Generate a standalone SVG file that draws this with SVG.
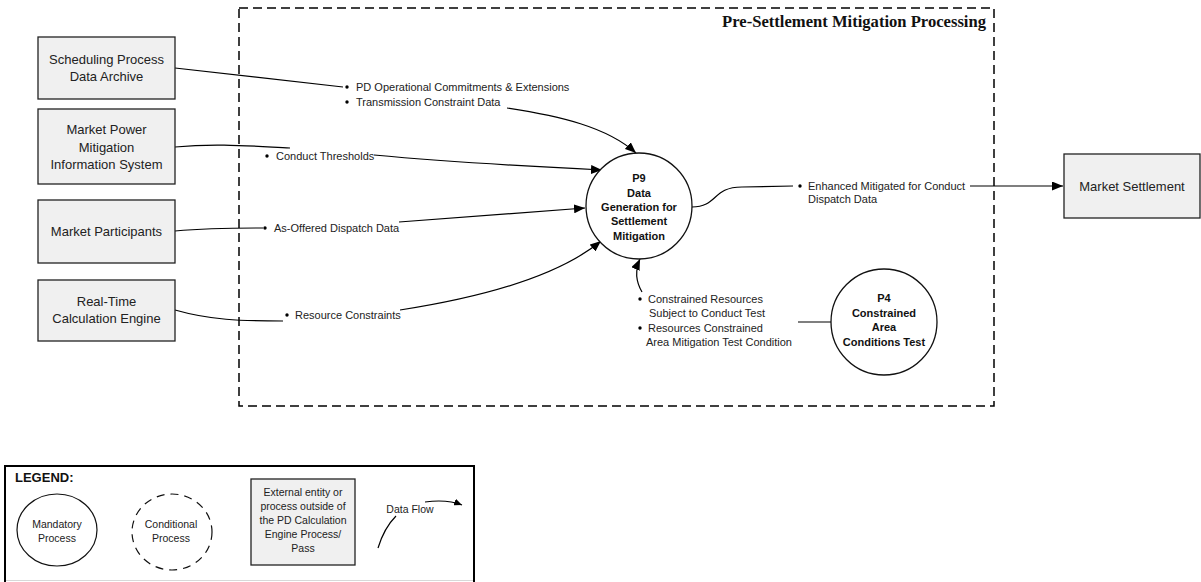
<svg xmlns="http://www.w3.org/2000/svg" width="1201" height="582" viewBox="0 0 1201 582">
<defs>
<marker id="arr" markerUnits="userSpaceOnUse" markerWidth="11" markerHeight="9" refX="11" refY="4.5" orient="auto">
<path d="M0,0 L11,4.5 L0,9 z" fill="#000"/>
</marker>
<marker id="arrs" markerUnits="userSpaceOnUse" markerWidth="8" markerHeight="7" refX="8" refY="3.5" orient="auto">
<path d="M0,0 L8,3.5 L0,7 z" fill="#000"/>
</marker>
<style>
.box{fill:#f0f0f0;stroke:#222;stroke-width:1.3}
.proc{fill:#fff;stroke:#111;stroke-width:1.3}
.bt{font-family:"Liberation Sans",Arial,sans-serif;font-size:13px;fill:#222;text-anchor:middle}
.pt{font-family:"Liberation Sans",Arial,sans-serif;font-size:11px;font-weight:bold;fill:#111;text-anchor:middle}
.lb{font-family:"Liberation Sans",Arial,sans-serif;font-size:11px;fill:#222}
.lg{font-family:"Liberation Sans",Arial,sans-serif;font-size:10.5px;fill:#222;text-anchor:middle}
.fl{fill:none;stroke:#000;stroke-width:1.2}
.dot{fill:#000}
</style>
</defs>
<rect width="1201" height="582" fill="#fff"/>

<g id="container">
<rect x="239" y="8" width="755" height="398" fill="none" stroke="#000" stroke-width="1.5" stroke-dasharray="9 5"/>
<text x="986" y="27" font-family="Liberation Serif,Times New Roman,serif" font-size="16.6" font-weight="bold" text-anchor="end" fill="#111">Pre-Settlement Mitigation Processing</text>
</g>

<g id="connectors">
<path class="fl" d="M175,68 L343,87"/>
<path class="fl" d="M507,108 C560,116 607,127 636,153" marker-end="url(#arr)"/>
<path class="fl" d="M175,147 C215,143 250,146 290,148"/>
<path class="fl" d="M374,155 C450,162 540,167 602,170" marker-end="url(#arr)"/>
<path class="fl" d="M175,231 C210,228 240,228 263,228"/>
<path class="fl" d="M399,222 L585,208" marker-end="url(#arr)"/>
<path class="fl" d="M175,310 C210,320 240,321 283,321"/>
<path class="fl" d="M400,310 C490,296 560,275 601,241" marker-end="url(#arr)"/>
<path class="fl" d="M692,207 C718,207 712,187 742,187 L793,186"/>
<path class="fl" d="M970,186 L1063,186" marker-end="url(#arr)"/>
<path class="fl" d="M831,322 L798,322"/>
<path class="fl" d="M642,292 C635,280 635,270 640,259" marker-end="url(#arr)"/>
</g>

<g id="flow-labels">
<circle class="dot" cx="347" cy="87" r="1.7"/>
<text class="lb" x="356" y="91">PD Operational Commitments &amp; Extensions</text>
<circle class="dot" cx="347" cy="102" r="1.7"/>
<text class="lb" x="356" y="106">Transmission Constraint Data</text>
<circle class="dot" cx="267" cy="156" r="1.7"/>
<text class="lb" x="276" y="160">Conduct Thresholds</text>
<circle class="dot" cx="265" cy="228" r="1.7"/>
<text class="lb" x="274" y="232">As-Offered Dispatch Data</text>
<circle class="dot" cx="287" cy="315" r="1.7"/>
<text class="lb" x="295" y="319">Resource Constraints</text>
<circle class="dot" cx="800" cy="186" r="1.7"/>
<text class="lb" x="808" y="190">Enhanced Mitigated for Conduct</text>
<text class="lb" x="808" y="203">Dispatch Data</text>
<circle class="dot" cx="640" cy="299" r="1.7"/>
<text class="lb" x="648" y="303">Constrained Resources</text>
<text class="lb" x="649" y="317">Subject to Conduct Test</text>
<circle class="dot" cx="640" cy="328" r="1.7"/>
<text class="lb" x="648" y="332">Resources Constrained</text>
<text class="lb" x="646" y="346">Area Mitigation Test Condition</text>
</g>

<g id="scheduling-archive">
<rect class="box" x="38" y="37" width="137" height="62"/>
<text class="bt" x="106.5" y="64">Scheduling Process</text>
<text class="bt" x="106.5" y="81">Data Archive</text>
</g>
<g id="mpm-system">
<rect class="box" x="38" y="109" width="137" height="75"/>
<text class="bt" x="106.5" y="134">Market Power</text>
<text class="bt" x="106.5" y="152">Mitigation</text>
<text class="bt" x="106.5" y="169">Information System</text>
</g>
<g id="market-participants">
<rect class="box" x="38" y="200" width="137" height="63"/>
<text class="bt" x="106.5" y="236">Market Participants</text>
</g>
<g id="rtce">
<rect class="box" x="38" y="280" width="137" height="61"/>
<text class="bt" x="106.5" y="306">Real-Time</text>
<text class="bt" x="106.5" y="323">Calculation Engine</text>
</g>
<g id="market-settlement">
<rect class="box" x="1064" y="154" width="136" height="64"/>
<text class="bt" x="1132" y="191">Market Settlement</text>
</g>

<g id="p9">
<circle class="proc" cx="639" cy="206" r="53"/>
<text class="pt" x="639" y="182">P9</text>
<text class="pt" x="639" y="197">Data</text>
<text class="pt" x="639" y="211">Generation for</text>
<text class="pt" x="639" y="225">Settlement</text>
<text class="pt" x="639" y="240">Mitigation</text>
</g>
<g id="p4">
<circle class="proc" cx="884" cy="322" r="53"/>
<text class="pt" x="884" y="302">P4</text>
<text class="pt" x="884" y="317">Constrained</text>
<text class="pt" x="884" y="331">Area</text>
<text class="pt" x="884" y="346">Conditions Test</text>
</g>

<g id="legend">
<rect x="5" y="466" width="469" height="140" fill="none" stroke="#000" stroke-width="2"/>
<line x1="6" y1="580.5" x2="473" y2="580.5" stroke="#d8d8d8" stroke-width="1"/>
<text x="15" y="482" font-family="Liberation Sans,Arial,sans-serif" font-size="13" font-weight="bold" fill="#111">LEGEND:</text>
<ellipse cx="57" cy="530" rx="40" ry="36" fill="#fff" stroke="#111" stroke-width="1.2"/>
<text class="lg" x="57" y="528">Mandatory</text>
<text class="lg" x="57" y="542">Process</text>
<ellipse cx="172" cy="532" rx="40" ry="38" fill="#fff" stroke="#111" stroke-width="1.2" stroke-dasharray="8 6"/>
<text class="lg" x="171" y="528">Conditional</text>
<text class="lg" x="171" y="542">Process</text>
<rect class="box" x="251" y="479" width="104" height="86"/>
<text class="lg" x="303" y="496">External entity or</text>
<text class="lg" x="303" y="510">process outside of</text>
<text class="lg" x="303" y="524">the PD Calculation</text>
<text class="lg" x="303" y="538">Engine Process/</text>
<text class="lg" x="303" y="552">Pass</text>
<text class="lg" x="410" y="513">Data Flow</text>
<path class="fl" d="M378,548 C382,535 388,524 396,516"/>
<path class="fl" d="M425,502 C440,500 452,501 462,505" marker-end="url(#arrs)"/>
</g>
</svg>
